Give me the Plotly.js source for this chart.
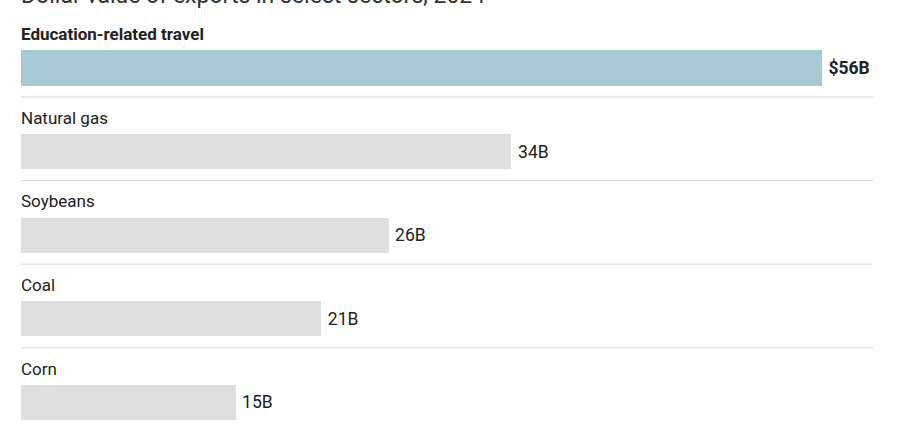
<!DOCTYPE html>
<html>
<head>
<meta charset="utf-8">
<script src="https://cdn.plot.ly/plotly-3.0.1.min.js"></script>
<style>html,body{margin:0;padding:0;background:#fff;}#chart{width:908px;height:430px;}</style>
</head>
<body>
<div id="chart"></div>
<script>
const categories = ["Education-related travel", "Natural gas", "Soybeans", "Coal", "Corn"];
const values = [56, 34.3, 25.7, 21, 15];
const valueLabels = ["$56B", "34B", "26B", "21B", "15B"];
const highlight = [true, false, false, false, false];
const titleText = "Dollar value of exports in select sectors, 2024";

const idx = categories.map((c, i) => i);
const colors = highlight.map(h => h ? "#a8cad4" : "#dfdfdf");
const texts = valueLabels.map((t, i) => "\u2009" + (highlight[i] ? "<b>" + t + "</b>" : t));

const font = "Roboto, 'Liberation Sans', Arial, sans-serif";

const trace = {
  type: "bar",
  orientation: "h",
  x: values,
  y: idx,
  width: 0.42,
  marker: {color: colors, line: {width: 0}},
  text: texts,
  textposition: "outside",
  constraintext: "none",
  cliponaxis: false,
  textfont: {family: font, size: 17.5, color: "#222"},
  hoverinfo: "none"
};

const annotations = categories.map((c, i) => ({
  xref: "paper", yref: "y", x: 0, y: i - 0.405, xshift: -2,
  xanchor: "left", yanchor: "middle",
  text: highlight[i] ? "<b>" + c + "</b>" : c,
  showarrow: false,
  font: {family: font, size: 17, color: "#222"}
}));
annotations.push({
  xref: "paper", yref: "paper", x: 0, y: 1, xanchor: "left", yanchor: "top",
  yshift: 20, xshift: -2, text: titleText, showarrow: false,
  font: {family: font, size: 23, color: "#333"}
});

const shapes = idx.slice(0, -1).map(i => ({
  type: "line", xref: "paper", yref: "y", x0: 0, x1: 1, y0: i + 0.347, y1: i + 0.347,
  line: {color: "#d9d9d9", width: 1}
}));

const layout = {
  width: 908, height: 430,
  margin: {l: 21, r: 35, t: 0, b: 0},
  paper_bgcolor: "#fff", plot_bgcolor: "#fff",
  showlegend: false,
  xaxis: {range: [0, 59.58], visible: false, fixedrange: true},
  yaxis: {range: [4.33, -0.813], visible: false, fixedrange: true},
  annotations: annotations,
  shapes: shapes,
  bargap: 0
};

Plotly.newPlot("chart", [trace], layout, {displayModeBar: false, staticPlot: true});
</script>
</body>
</html>
